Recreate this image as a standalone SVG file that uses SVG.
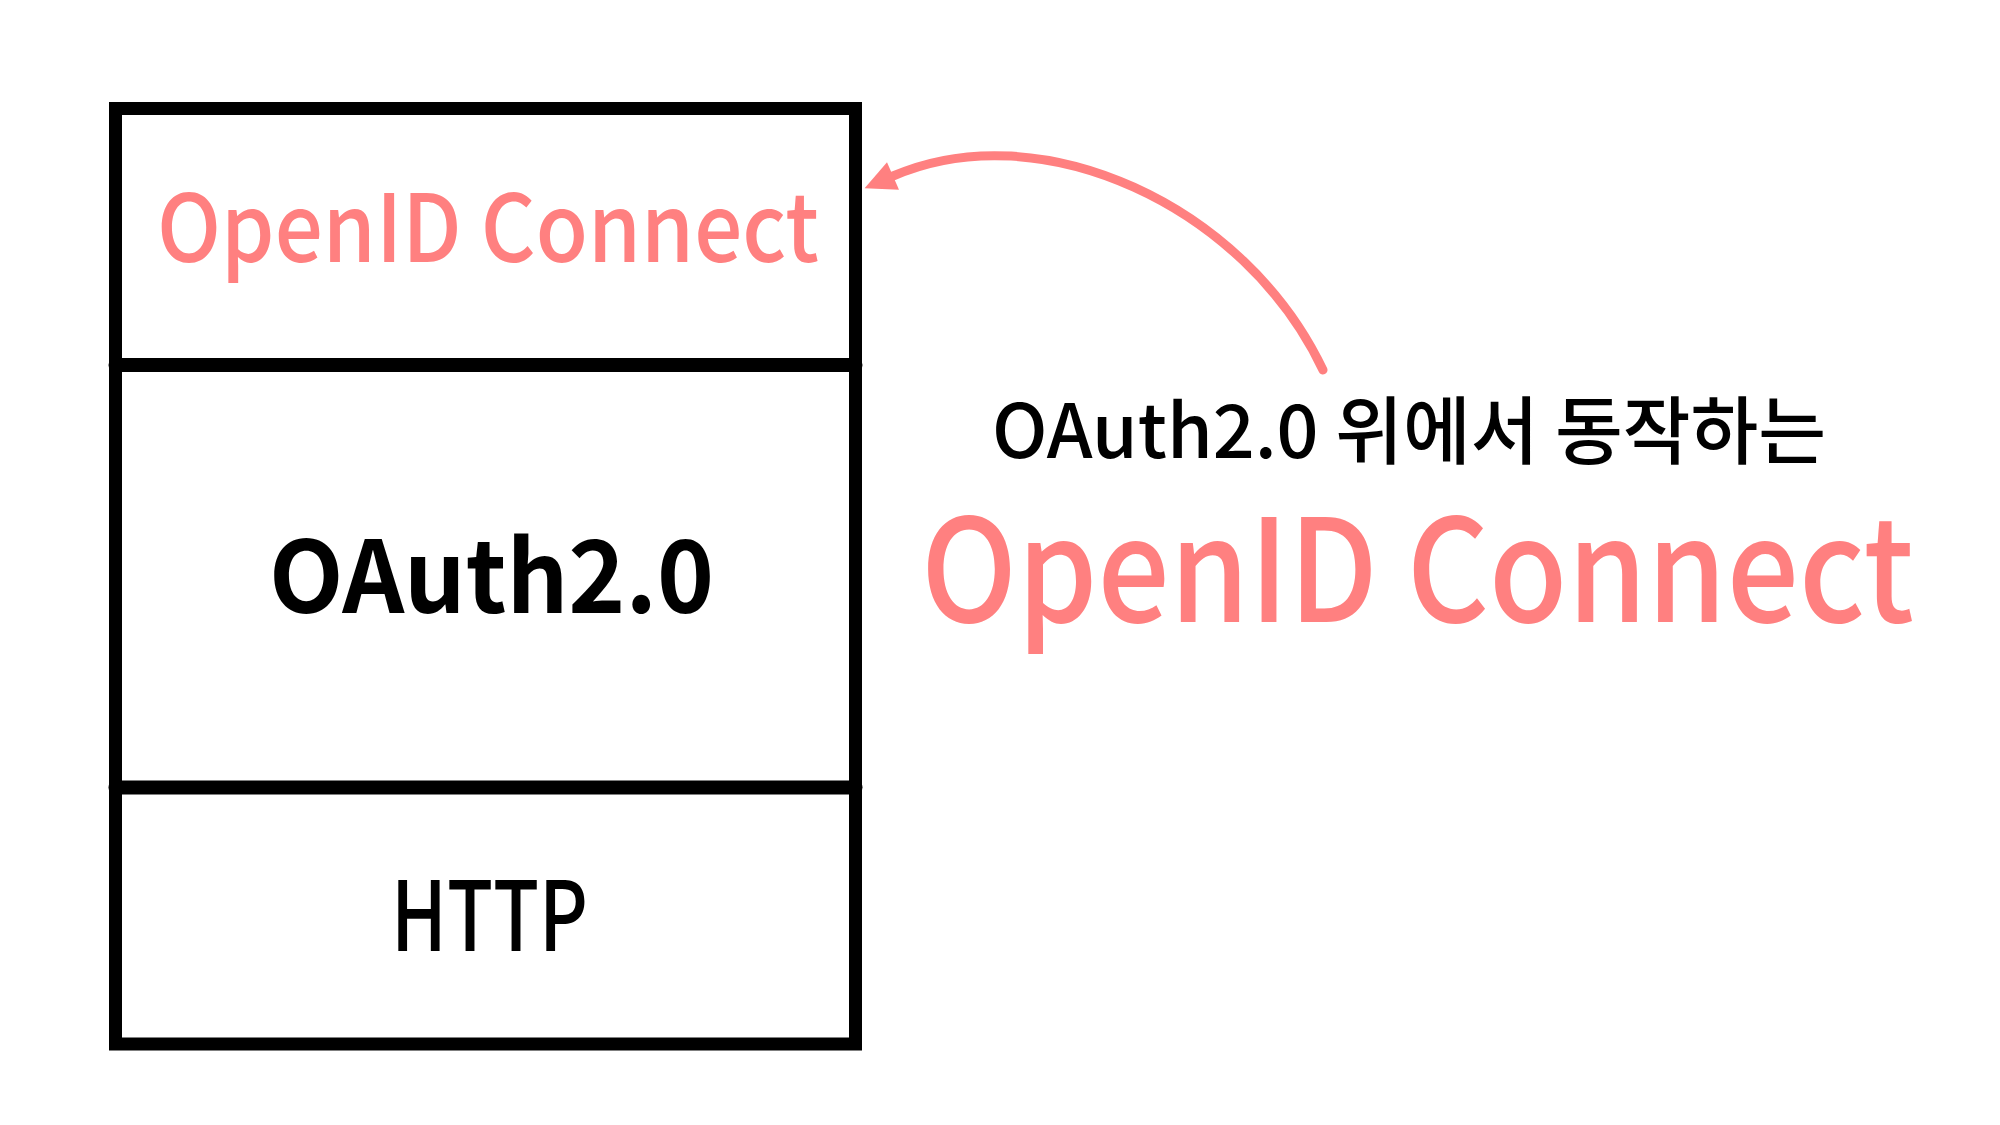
<svg xmlns="http://www.w3.org/2000/svg" width="2000" height="1125" viewBox="0 0 2000 1125">
  <style>
    .frame { fill: none; stroke: #000; stroke-width: 13; }
    .divider { stroke: #000; stroke-width: 14; stroke-linecap: round; }
    .t { font-family: "Noto Sans CJK KR", "Liberation Sans", sans-serif; font-weight: 500; }
    .t.bold { font-weight: 700; }
    .pink { fill: #FF8080; }
    .black { fill: #000; }
    .conn { fill: none; stroke: #FF8080; stroke-width: 9; stroke-linecap: round; }
  </style>
  <defs>
    <marker id="arrow" markerUnits="userSpaceOnUse" markerWidth="40" markerHeight="40" refX="0" refY="0" viewBox="-2 -20 40 40" orient="auto">
      <path d="M0,-15 L31,0 L0,15 Z" fill="#FF8080"/>
    </marker>
  </defs>
  <rect width="2000" height="1125" fill="#fff"/>

  <g id="stack">
    <rect class="frame" x="115.5" y="108.5" width="740" height="935.5"/>
    <line class="divider" x1="115.5" y1="365" x2="855.5" y2="365"/>
    <line class="divider" x1="115.5" y1="787.5" x2="855.5" y2="787.5"/>
  </g>

  <g id="layer-openid">
    <text class="t pink" x="157" y="262" font-size="94" textLength="662" lengthAdjust="spacingAndGlyphs">OpenID Connect</text>
  </g>
  <g id="layer-oauth">
    <text class="t bold black" x="269" y="613" font-size="100" textLength="445" lengthAdjust="spacingAndGlyphs">OAuth2.0</text>
  </g>
  <g id="layer-http">
    <text class="t black" x="391" y="951" font-size="96" textLength="197" lengthAdjust="spacingAndGlyphs">HTTP</text>
  </g>

  <g id="caption">
    <text class="t black" x="992" y="458" font-size="74" textLength="834" lengthAdjust="spacingAndGlyphs">OAuth2.0 위에서 동작하는</text>
    <text class="t pink" x="921" y="622" font-size="143" textLength="993" lengthAdjust="spacingAndGlyphs">OpenID Connect</text>
  </g>

  <g id="connectors">
    <path class="conn" d="M1323,370 C1245,205 1040,112 893,176" marker-end="url(#arrow)"/>
  </g>
</svg>
